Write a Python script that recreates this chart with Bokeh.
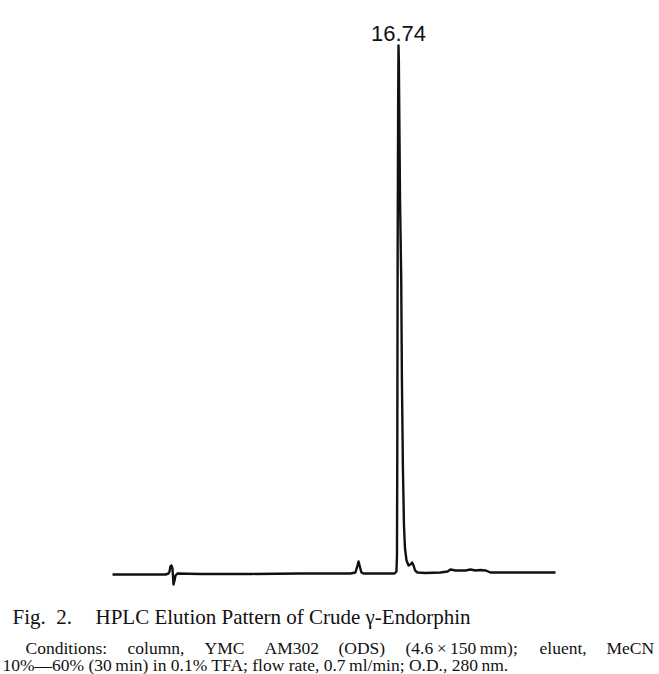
from bokeh.plotting import figure
from bokeh.models import Range1d, Label, ColumnDataSource
from bokeh.embed import file_html
from bokeh.resources import INLINE

# Chromatogram trace: retention time (min) and relative absorbance (% of main peak)
time_min = [0.00, 2.22, 3.10, 3.28, 3.34, 3.39, 3.45, 3.51, 3.54, 3.57, 3.63, 3.69, 3.80,
            5.15, 8.08, 11.00, 13.93, 14.22, 14.34, 14.40, 14.46, 14.57, 14.69,
            16.51, 16.62, 16.65, 16.67, 16.69, 16.72, 16.74, 16.76, 16.83, 16.90, 16.94,
            17.00, 17.06, 17.12, 17.21, 17.33, 17.44, 17.54, 17.62, 17.71, 17.85,
            18.32, 19.20, 19.61, 19.78, 20.08, 20.66, 20.95, 21.25, 21.54, 21.83, 22.12,
            23.88, 25.93]
absorbance = [-0.19, -0.19, -0.19, 0.0, 0.38, 1.33, 1.52, 0.95, -0.38, -2.08, -1.33, -0.38, 0.0,
              -0.09, -0.09, 0.0, 0.0, 0.19, 1.52, 2.27, 1.52, 0.19, 0.0,
              0.0, 0.38, 3.41, 23.3, 61.2, 89.6, 100.0, 97.2, 70.6, 55.5, 36.6,
              19.5, 9.09, 4.73, 2.46, 1.52, 1.70, 2.08, 1.52, 0.57, 0.19,
              0.09, 0.19, 0.38, 0.76, 0.57, 0.57, 0.76, 0.57, 0.66, 0.57, 0.19,
              0.19, 0.19]

peak_label = "16.74"
fig_number = "Fig.\u00a0 2."
fig_title = "HPLC Elution Pattern of Crude \u03b3-Endorphin"
conditions_words = ["Conditions:", "column,", "YMC", "AM302", "(ODS)",
                    "(4.6\u2009\u00d7\u2009150\u2009mm);", "eluent,", "MeCN"]
conditions_line2 = "10%\u201460% (30\u2009min) in 0.1% TFA; flow rate, 0.7\u2009ml/min; O.D., 280\u2009nm."

# layout (screen pixels) for the justified first conditions line
word_x = [25, 127, 204, 264, 338, 405, 539, 606]

W, H = 659, 674
p = figure(width=W, height=H, output_backend="svg", toolbar_location=None,
           x_range=Range1d(-6.555, 32.016), y_range=Range1d(-19.13, 108.52),
           min_border=0, min_border_left=0, min_border_right=0,
           min_border_top=0, min_border_bottom=0)
p.axis.visible = False
p.grid.visible = False
p.outline_line_color = None
p.background_fill_color = "white"
p.border_fill_color = "white"

src = ColumnDataSource(dict(t=time_min, a=absorbance))
p.line("t", "a", source=src, line_color="#111111", line_width=2.4, line_join="round")

ip = absorbance.index(max(absorbance))
p.add_layout(Label(x=time_min[ip], y=absorbance[ip], y_offset=12, text=peak_label,
                   text_font="Liberation Sans", text_font_size="22px",
                   text_align="center", text_baseline="alphabetic", text_color="#111111"))

serif = dict(text_font="Liberation Serif", text_baseline="alphabetic", text_color="#111111",
             x_units="screen", y_units="screen")
p.add_layout(Label(x=12, y=58, text=fig_number, text_font_size="21px", **serif))
p.add_layout(Label(x=95, y=58, text=fig_title, text_font_size="21px", **serif))
for wx, w in zip(word_x, conditions_words):
    p.add_layout(Label(x=wx, y=27, text=w, text_font_size="17.5px", **serif))
p.add_layout(Label(x=2, y=10, text=conditions_line2, text_font_size="17.5px", **serif))

open("out.html", "w").write(file_html(p, INLINE))
